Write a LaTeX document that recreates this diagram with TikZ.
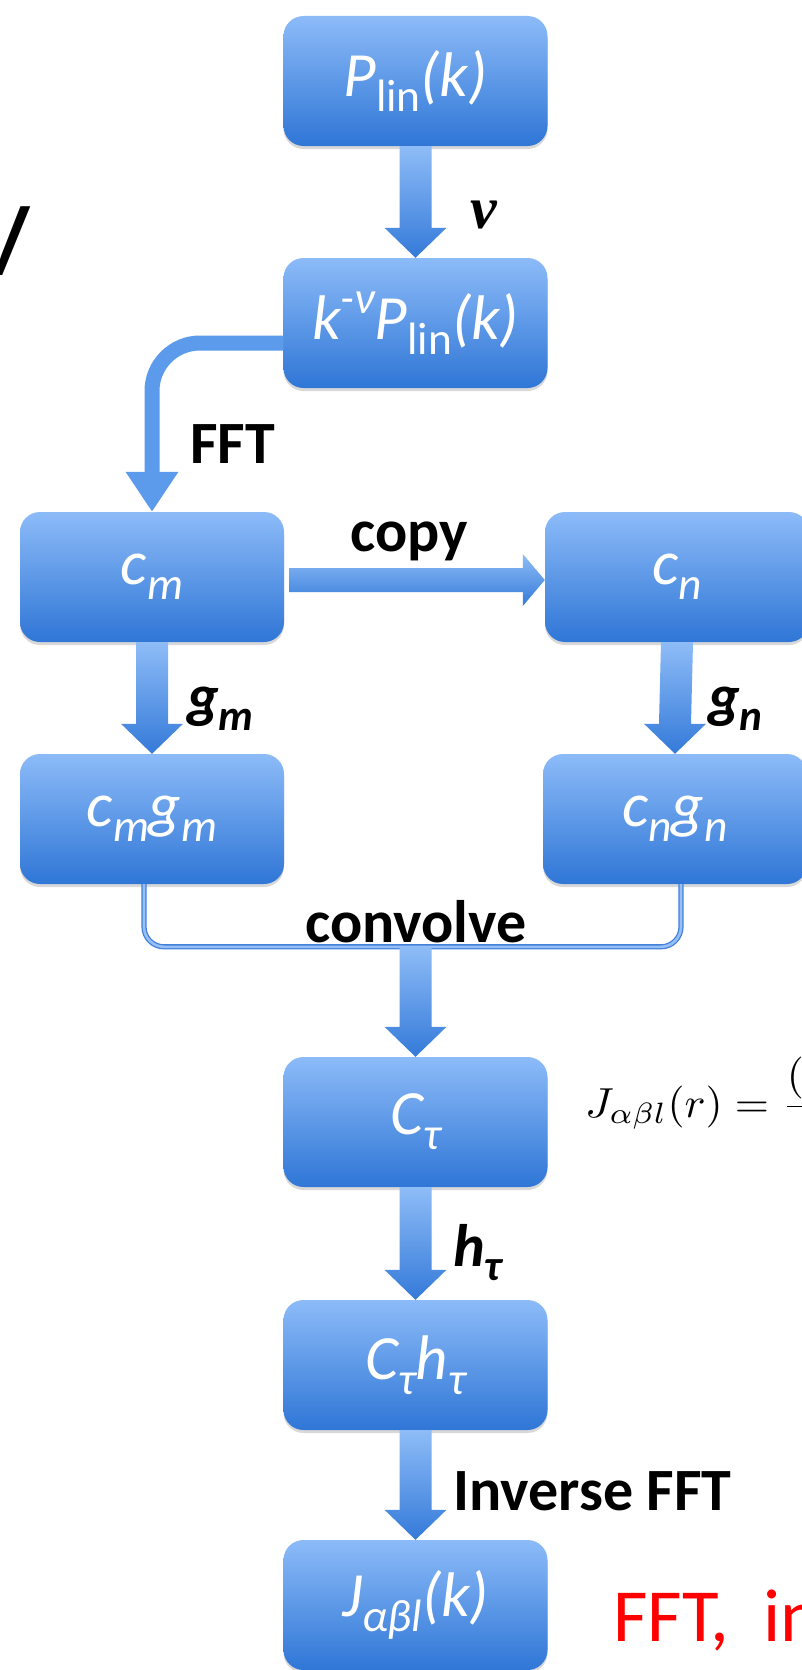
\documentclass[tikz,border=0pt]{standalone}
\usepackage{fontspec}
\setmainfont{Carlito}
\newfontfamily\serifbi{Liberation Serif}
\newfontfamily\arialf{Liberation Sans}
\usetikzlibrary{calc,arrows.meta,shadows}

\definecolor{boxtop}{RGB}{140,187,248}
\definecolor{boxbot}{RGB}{47,118,214}
\definecolor{arrtop}{RGB}{142,188,247}
\definecolor{arrbot}{RGB}{52,122,217}
\definecolor{linkblue}{RGB}{92,155,236}
\definecolor{rimblue}{RGB}{66,128,218}
\definecolor{palerim}{RGB}{150,192,245}

% lowered / raised small text inside the boxes
\newcommand\lo[1]{\raisebox{-0.24em}{\scalebox{0.72}{#1}}}
\newcommand\hi[1]{\raisebox{0.42em}{\scalebox{0.72}{#1}}}
\newcommand\boxfont{\fontsize{63}{70}\selectfont\itshape}
\newcommand\lblfont{\fontsize{60}{66}\selectfont\bfseries}

% wide downward block arrow between two anchors
\newcommand\blockdown[2]{%
  \path[arrowshade] ($(#1)+(-16,0)$) -- ($(#2)+(-16,30)$) -- ($(#2)+(-31,30)$)
    -- (#2) -- ($(#2)+(31,30)$) -- ($(#2)+(16,30)$) -- ($(#1)+(16,0)$) -- cycle;}

\tikzset{
  flowbox/.style={rectangle, rounded corners=20pt, minimum width=264pt,
    minimum height=130pt, inner sep=0pt, top color=boxtop, bottom color=boxbot,
    draw=none, text=white, font=\boxfont,
    drop shadow={shadow xshift=0pt, shadow yshift=-3pt, opacity=0.3}},
  arrowshade/.style={top color=arrtop, bottom color=arrbot},
  lbl/.style={anchor=base west, inner sep=0pt, font=\lblfont},
}

\begin{document}
\begin{tikzpicture}[x=1pt,y=1pt]
\fill[white] (0,0) rectangle (802,-1670);
\useasboundingbox (0,0) rectangle (802,-1670);

% partial slide title at the left edge
\node[anchor=base west, inner sep=0pt, font=\arialf\fontsize{100}{100}\selectfont] (vv) at (-36,-275) {V};

% boxes
\node[flowbox] (plin)   at (415.5,-81)   {P\lo{\upshape lin}(k)};
\node[flowbox] (kplin)  at (415.5,-323)  {k\hi{-ν}P\lo{\upshape lin}(k)};
\node[flowbox] (cm)     at (152,-577)    {c\lo{m}};
\node[flowbox] (cn)     at (677,-577)    {c\lo{n}};
\node[flowbox] (cmgm)   at (152,-819)    {c\lo{m}g\lo{m}};
\node[flowbox] (cngn)   at (675,-819)    {c\lo{n}g\lo{n}};
\node[flowbox] (ctau)   at (415.5,-1122) {C\lo{τ}};
\node[flowbox] (cthtau) at (415.5,-1365) {C\lo{τ}h\lo{τ}};
\node[flowbox] (jk)     at (415.5,-1605) {J\lo{αβl}(k)};

% connectors
\blockdown{plin.south}{kplin.north}
\draw[line width=15pt, linkblue, rounded corners=48pt,
      -{Triangle[width=50pt,length=40pt]}]
  ($(kplin.west)+(0,-20)$) -| (cm.north);
\path[arrowshade] ($(cm.east)+(5,9)$) -- ($(cn.west)+(-22,9)$) -- ($(cn.west)+(-22,23)$)
  -- ($(cn.west)+(0,-3)$) -- ($(cn.west)+(-22,-29)$) -- ($(cn.west)+(-22,-15)$)
  -- ($(cm.east)+(5,-15)$) -- cycle;
\blockdown{cm.south}{cmgm.north}
\blockdown{cn.south}{cngn.north}

\coordinate (join) at ($(ctau.north)+(0,110)$);
\draw[draw=rimblue, line width=1.3pt, double=palerim, double distance=2.6pt,
      rounded corners=20pt]
  ($(cmgm.south)+(-8,0)$) |- (join) -| ($(cngn.south)+(6,0)$);
\blockdown{join}{ctau.north}
\blockdown{ctau.south}{cthtau.north}
\blockdown{cthtau.south}{jk.north}

% labels
\node[anchor=base west, inner sep=0pt, font=\serifbi\fontsize{60}{66}\selectfont\bfseries\itshape] (nu) at (470,-228) {ν};
\node[lbl] (fftl) at (190,-463) {FFT};
\node[lbl] (copyl) at (350,-551) {copy};
\node[lbl, font=\lblfont\itshape] (gml) at (187,-716) {g\lo{m}};
\node[lbl, font=\lblfont\itshape] (gnl) at (708,-716) {g\lo{n}};
\node[lbl] (convl) at (305,-942) {convolve};
\node[lbl, font=\lblfont\itshape] (htl) at (453,-1266) {h\lo{τ}};
\node[lbl] (invl) at (453,-1510) {Inverse FFT};

\node[anchor=base west, inner sep=0pt] (jr) at (585,-1117)
  {\scalebox{4.4}[4.2]{$\displaystyle J_{\alpha\beta l}(r) = \frac{(-1)^l}{2\pi^2}$}};
\node[anchor=base west, inner sep=0pt, text=red, font=\fontsize{75}{80}\selectfont] (redl) at (613,-1641) {FFT, \ in};
\end{tikzpicture}
\end{document}
